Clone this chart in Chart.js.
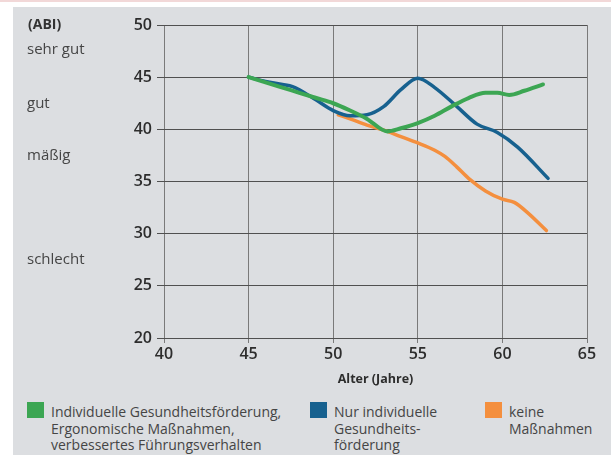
<!DOCTYPE html>
<html>
<head>
<meta charset="utf-8">
<script src="https://cdn.jsdelivr.net/npm/chart.js@4"></script>
<style>
  html, body { margin: 0; padding: 0; background: #fff; }
  body { width: 611px; height: 455px; position: relative; overflow: hidden; font-family: 'Open Sans', sans-serif; }
  .topline { position: absolute; left: 0; top: 0; width: 611px; height: 2px; background: #f2d8d8; }
  .panel { position: absolute; left: 13px; top: 7px; width: 598px; height: 448px; background: #dcdee1; }
  canvas { position: absolute; left: 0; top: 0; }
  .legend-item { position: absolute; top: 404px; color: #454545; font-size: 14px; line-height: 16.5px; }
  .legend-item .sw { position: absolute; left: 0; top: -2px; width: 17px; height: 16px; }
  .legend-item .txt { position: absolute; left: 24px; top: 0; white-space: nowrap; }
</style>
</head>
<body>
<div class="topline"></div>
<div class="panel"></div>
<canvas id="chart" width="611" height="395"></canvas>
<div id="legend"></div>
<script>
// Alter (Jahre) -> ABI
const greenAge = [45, 46, 47, 48, 49, 50, 51, 52, 53.2, 54, 55, 56, 57, 58, 59, 59.7, 60.4, 61.3, 62.4];
const greenAbi = [45, 44.5, 44.0, 43.5, 43.0, 42.5, 41.8, 41.0, 39.8, 40.1, 40.6, 41.3, 42.2, 43.0, 43.5, 43.5, 43.3, 43.7, 44.3];

const blueAge = [45, 46, 47, 47.6, 48, 49, 50, 51, 52, 53, 54, 55, 56, 57.3, 58.5, 59.7, 60.9, 62.7];
const blueAbi = [45, 44.6, 44.3, 44.1, 43.8, 42.8, 41.8, 41.3, 41.4, 42.2, 43.8, 44.9, 44.0, 42.2, 40.5, 39.7, 38.3, 35.3];

const orangeAge = [50.3, 51, 52, 53.2, 54, 55, 56, 56.6, 57.3, 58, 59, 60, 60.7, 61.5, 62.6];
const orangeAbi = [41.4, 41.0, 40.4, 39.8, 39.3, 38.7, 38.0, 37.4, 36.4, 35.3, 34.1, 33.3, 33.0, 32.0, 30.3];

const seriesNames = [
  ['Individuelle Gesundheitsförderung,', 'Ergonomische Maßnahmen,', 'verbessertes Führungsverhalten'],
  ['Nur individuelle', 'Gesundheits-', 'förderung'],
  ['keine', 'Maßnahmen'],
];
const seriesColors = ['#3ca653', '#17618f', '#f48f3e'];

const ratingLabels = ['sehr gut', 'gut', 'mäßig', 'schlecht'];
const ratingLevels = [47.6, 42.5, 37.5, 27.5];
const unitLabel = '(ABI)';

const xTicks = [40, 45, 50, 55, 60, 65];
const yTicks = [20, 25, 30, 35, 40, 45, 50];

const pts = (xs, ys) => xs.map((x, i) => ({ x, y: ys[i] }));

// legend in html below the chart
const legendLeft = [27, 310, 485];
const legendEl = document.getElementById('legend');
seriesNames.forEach((lines, i) => {
  const d = document.createElement('div');
  d.className = 'legend-item';
  d.style.left = legendLeft[i] + 'px';
  d.innerHTML = `<div class="sw" style="background:${seriesColors[i]}"></div><div class="txt">${lines.join('<br>')}</div>`;
  legendEl.appendChild(d);
});

// left-hand rating words
const ratingPlugin = {
  id: 'ratings',
  afterDraw(chart) {
    const { ctx, scales: { y } } = chart;
    ctx.save();
    ctx.fillStyle = '#454545';
    ctx.textBaseline = 'middle';
    ctx.textAlign = 'left';
    ctx.font = "bold 14px 'Open Sans'";
    ctx.fillStyle = '#333';
    ctx.fillText(unitLabel, 28, y.getPixelForValue(50));
    ctx.fillStyle = '#454545';
    ctx.font = "15px 'Open Sans'";
    ratingLabels.forEach((t, i) => ctx.fillText(t, 27, y.getPixelForValue(ratingLevels[i])));
    ctx.restore();
  },
};

const lineStyle = (color, width) => ({
  borderColor: color,
  backgroundColor: color,
  borderWidth: width,
  pointRadius: 0,
  showLine: true,
  fill: false,
  cubicInterpolationMode: 'monotone',
  borderCapStyle: 'round',
});

new Chart(document.getElementById('chart'), {
  type: 'scatter',
  data: {
    datasets: [
      { label: 'green', data: pts(greenAge, greenAbi), ...lineStyle(seriesColors[0], 4) },
      { label: 'blue', data: pts(blueAge, blueAbi), ...lineStyle(seriesColors[1], 3.5) },
      { label: 'orange', data: pts(orangeAge, orangeAbi), ...lineStyle(seriesColors[2], 3.5) },
    ],
  },
  options: {
    responsive: false,
    animation: false,
    layout: { padding: { left: 0, right: 24, top: 25, bottom: 8 } },
    plugins: { legend: { display: false }, tooltip: { enabled: false } },
    scales: {
      x: {
        type: 'linear',
        min: 40,
        max: 65,
        afterBuildTicks: (s) => { s.ticks = xTicks.map(v => ({ value: v })); },
        afterFit: (s) => { s.height = 49; },
        grid: { color: '#7a7a7a', lineWidth: 1, tickLength: 5, drawOnChartArea: true },
        border: { display: false },
        ticks: {
          color: '#2d2d2d',
          padding: 2,
          maxRotation: 0,
          font: { family: "'Open Sans'", size: 16, weight: '600' },
        },
        title: {
          display: true,
          text: 'Alter (Jahre)',
          color: '#2d2d2d',
          font: { family: "'Open Sans'", size: 12.5, weight: 'bold' },
          padding: { top: 0, bottom: 0 },
        },
      },
      y: {
        type: 'linear',
        min: 20,
        max: 50,
        afterBuildTicks: (s) => { s.ticks = yTicks.map(v => ({ value: v })); },
        afterFit: (s) => { s.width = 164; },
        grid: { color: '#505050', lineWidth: 1, tickLength: 7 },
        border: { display: false },
        ticks: {
          color: '#2d2d2d',
          padding: 5,
          font: { family: "'Open Sans'", size: 16, weight: '600' },
        },
      },
    },
  },
  plugins: [ratingPlugin],
});
</script>
</body>
</html>
